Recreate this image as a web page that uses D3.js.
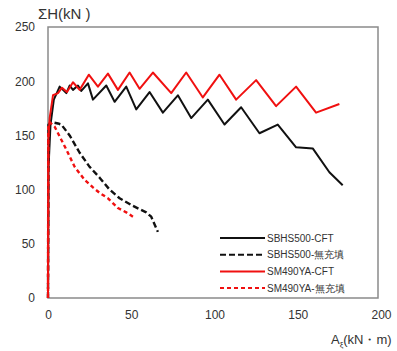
<!DOCTYPE html>
<html>
<head>
<meta charset="utf-8">
<script src="https://cdn.jsdelivr.net/npm/d3@7"></script>
<style>
  body { margin: 0; background: #fff; }
  text { font-family: "Liberation Sans", Arial, sans-serif; fill: #333; }
</style>
</head>
<body>
<svg id="chart" width="397" height="351"></svg>
<script>
// series: [A, ΣH]
var sbhsCft = [[0,0],[0.3,120],[1.5,160],[3.5,183],[7,195],[11,189],[13,196],[15,192],[18,196],[20,191],
  [24,198],[27,183],[35,196],[40,181],[47,195],[53,174],[61,190],[69,171],[78,187],[86,166],
  [96,183],[106,160],[116,176],[127,152],[138,160],[149,139],[159,138],[169,116],[177,104]]
var sbhsEmpty = [[0,0],[0.3,160],[3,162],[6,161],[8,160],[13,150],[19,134],[25,121],[31,111],
  [37,100],[43,92],[51,85],[59,79],[62,75],[66,61]]
var smCft = [[0,0],[0.2,146],[1,166],[3,187],[6,189],[8.4,194],[11.4,190],[15,199],[19,192],
  [24.5,206],[30,195],[36,207],[42,192],[49,208],[55,193],[63,208],[74,189],[83,208],[93,185],
  [103,206],[113,183],[125,201],[137,177],[149,195],[161,171],[175,179]]
var smEmpty = [[0,0],[0.2,160],[1.2,162],[4,158],[7,149],[11,137],[16,121],[22,109],[27,102],
  [31,97],[36,92],[42,83],[47,79],[51,75]]

var seriesNames = ["SBHS500-CFT", "SBHS500-無充填", "SM490YA-CFT", "SM490YA-無充填"]
var seriesColors = ["#111", "#111", "#f01010", "#f01010"]
var seriesDash = [null, "6,3", null, "4,3"]
var xTicks = [0, 50, 100, 150, 200]
var yTicks = [0, 50, 100, 150, 200, 250]

var svg = d3.select("#chart")
var plotL = 48, plotR = 381, plotT = 27, plotB = 298

var x = d3.scaleLinear().domain([0, 200]).range([plotL, plotR])
var y = d3.scaleLinear().domain([0, 250]).range([plotB, plotT])

// frame
svg.append("rect")
  .attr("x", plotL).attr("y", plotT)
  .attr("width", 378 - plotL).attr("height", plotB - plotT)
  .attr("fill", "none").attr("stroke", "#8a8a8a").attr("stroke-width", 1.5)

// tick labels via axes, no tick lines
svg.append("g")
  .attr("transform", "translate(0," + plotB + ")")
  .call(d3.axisBottom(x).tickValues(xTicks).tickSize(0).tickPadding(12))
svg.append("g")
  .attr("transform", "translate(" + plotL + ",0)")
  .call(d3.axisLeft(y).tickValues(yTicks).tickSize(0).tickPadding(13))
svg.selectAll(".domain").remove()
svg.selectAll(".tick text")
  .style("font-family", "'Liberation Sans', Arial, sans-serif")
  .style("font-size", "12px").attr("fill", "#333")

var line = d3.line()
  .x(function(d) { return x(d[0]) })
  .y(function(d) { return y(d[1]) })

var allSeries = [sbhsCft, sbhsEmpty, smCft, smEmpty]
allSeries.forEach(function(s, i) {
  svg.append("path")
    .datum(s)
    .attr("d", line)
    .attr("fill", "none")
    .attr("stroke", seriesColors[i])
    .attr("stroke-width", i % 2 ? 2.4 : 2)
    .attr("stroke-dasharray", seriesDash[i])
    .attr("stroke-linejoin", "round")
})

// legend
var lg = svg.append("g").attr("transform", "translate(220,238)")
seriesNames.forEach(function(name, i) {
  var row = lg.append("g").attr("transform", "translate(0," + (i * 16.7) + ")")
  row.append("line")
    .attr("x1", 0).attr("x2", 45).attr("y1", 0).attr("y2", 0)
    .attr("stroke", seriesColors[i]).attr("stroke-width", 2)
    .attr("stroke-dasharray", seriesDash[i])
  row.append("text")
    .attr("x", 47).attr("y", 3.5)
    .style("font-size", "10px")
    .text(name)
})

// axis titles
svg.append("text")
  .attr("x", 38).attr("y", 19)
  .style("font-size", "15px")
  .text("ΣH(kN )")

var xt = svg.append("text")
  .attr("x", 331).attr("y", 344)
  .style("font-size", "13px")
xt.append("tspan").text("A")
xt.append("tspan").attr("dy", 3).style("font-size", "8px").text("ξ")
xt.append("tspan").attr("dy", -3).text("(kN・m)")
</script>
</body>
</html>
